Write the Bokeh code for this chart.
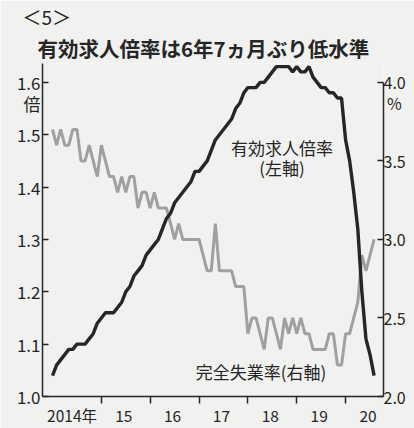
from bokeh.plotting import figure
from bokeh.models import Range1d, LinearAxis, FixedTicker, Label, ColumnDataSource, Title
from bokeh.embed import file_html
from bokeh.resources import INLINE

# ---- data (monthly, Jan 2014 - Aug 2020) ----
first_year = 2014
jobs_ratio = [
    1.04, 1.06, 1.07, 1.08, 1.09, 1.09, 1.10, 1.10, 1.10, 1.11, 1.12, 1.14,  # 2014
    1.15, 1.16, 1.16, 1.16, 1.17, 1.18, 1.20, 1.21, 1.23, 1.24, 1.25, 1.27,  # 2015
    1.28, 1.29, 1.30, 1.32, 1.34, 1.35, 1.37, 1.38, 1.39, 1.40, 1.41, 1.43,  # 2016
    1.43, 1.44, 1.45, 1.47, 1.49, 1.50, 1.51, 1.52, 1.53, 1.55, 1.56, 1.58,  # 2017
    1.59, 1.59, 1.59, 1.60, 1.60, 1.61, 1.62, 1.63, 1.63, 1.63, 1.63, 1.62,  # 2018
    1.63, 1.62, 1.62, 1.63, 1.61, 1.60, 1.59, 1.59, 1.58, 1.58, 1.57, 1.57,  # 2019
    1.49, 1.45, 1.39, 1.32, 1.20, 1.11, 1.08, 1.04,                          # 2020
]
unemployment = [
    3.7, 3.6, 3.7, 3.6, 3.6, 3.7, 3.7, 3.5, 3.5, 3.6, 3.5, 3.4,  # 2014
    3.6, 3.5, 3.4, 3.4, 3.3, 3.4, 3.3, 3.4, 3.4, 3.2, 3.3, 3.3,  # 2015
    3.2, 3.3, 3.2, 3.2, 3.2, 3.1, 3.0, 3.1, 3.0, 3.0, 3.0, 3.0,  # 2016
    3.0, 2.9, 2.8, 2.8, 3.1, 2.8, 2.8, 2.8, 2.8, 2.7, 2.7, 2.7,  # 2017
    2.4, 2.5, 2.5, 2.4, 2.3, 2.5, 2.5, 2.4, 2.3, 2.5, 2.4, 2.5,  # 2018
    2.4, 2.5, 2.4, 2.4, 2.3, 2.3, 2.3, 2.3, 2.4, 2.4, 2.2, 2.2,  # 2019
    2.4, 2.4, 2.5, 2.6, 2.9, 2.8, 2.9, 3.0,                      # 2020
]
left_ticks = [1.0, 1.1, 1.2, 1.3, 1.4, 1.5, 1.6]
right_ticks = [2.0, 2.5, 3.0, 3.5, 4.0]
year_bounds = [2015, 2016, 2017, 2018, 2019, 2020]
year_labels = ["2014年", "15", "16", "17", "18", "19", "20"]
left_unit, left_unit_at = "倍", 1.56
right_unit, right_unit_at = "\u00a0%", 3.87

title_text = "有効求人倍率は6年7ヵ月ぶり低水準"
number_text = "＜5＞"
jobs_name = "有効求人倍率"
jobs_axis = "(左軸)"
unemp_name = "完全失業率(右軸)"

x = [first_year + i / 12 for i in range(len(jobs_ratio))]

FONT = "Noto Sans CJK JP"
BG = "#f1f1ef"
INK = "#262626"
GREY = "#a0a0a0"

p = figure(width=414, height=428, output_backend="svg", toolbar_location=None,
           x_range=Range1d(2013.795, 2020.776), y_range=Range1d(1.0, 1.636),
           min_border=0, min_border_left=42, min_border_right=31, min_border_top=60,
           min_border_bottom=29, background_fill_color=BG, border_fill_color=BG,
           outline_line_color=None, title_location=None)
p.grid.visible = False
p.extra_y_ranges = {"pct": Range1d(2.0, 2.0 + 0.636 * (2.0 / 0.6))}

src = ColumnDataSource(dict(x=x, jobs=jobs_ratio, unemp=unemployment))
p.line("x", "unemp", source=src, y_range_name="pct", line_color=GREY, line_width=3.0)
p.line("x", "jobs", source=src, line_color=INK, line_width=3.4)

# bottom axis: labels at year centres, boundary ticks as minor ticks
centers = [2014.40] + [y + 5.5 / 12 for y in year_bounds]
xa = p.xaxis[0]
xa.ticker = FixedTicker(ticks=centers, minor_ticks=year_bounds)
xa.major_label_overrides = {c: t for c, t in zip(centers, year_labels)}
xa.major_tick_in = 0
xa.major_tick_out = 0
xa.minor_tick_in = 0
xa.minor_tick_out = 7
xa.minor_tick_line_color = INK
xa.minor_tick_line_width = 1.5
xa.axis_line_color = INK
xa.axis_line_width = 1.5
xa.major_label_standoff = 0
xa.major_label_text_font = FONT
xa.major_label_text_font_size = "15.5px"
xa.major_label_text_color = INK

ya = p.yaxis[0]
ya.ticker = FixedTicker(ticks=left_ticks + [left_unit_at], minor_ticks=left_ticks)
ov = {t: f"{t:.1f}" for t in left_ticks}
ov[left_unit_at] = left_unit
ya.major_label_overrides = ov
ya.major_tick_in = 0
ya.major_tick_out = 0
ya.minor_tick_in = 6
ya.minor_tick_out = 0
ya.minor_tick_line_color = INK
ya.minor_tick_line_width = 1.5
ya.axis_line_color = INK
ya.axis_line_width = 1.5
ya.major_label_standoff = 2
ya.major_label_text_font = FONT
ya.major_label_text_font_size = "17px"
ya.major_label_text_color = INK

ra = LinearAxis(y_range_name="pct",
                ticker=FixedTicker(ticks=right_ticks + [right_unit_at], minor_ticks=right_ticks),
                bounds=(2.0, 4.0))
ov = {t: f"{t:.1f}" for t in right_ticks}
ov[right_unit_at] = right_unit
ra.major_label_overrides = ov
ra.major_tick_in = 0
ra.major_tick_out = 0
ra.minor_tick_in = 6
ra.minor_tick_out = 0
ra.minor_tick_line_color = INK
ra.minor_tick_line_width = 1.5
ra.axis_line_color = INK
ra.axis_line_width = 1.5
ra.major_label_standoff = 0
ra.major_label_text_font = FONT
ra.major_label_text_font_size = "16px"
ra.major_label_text_color = INK
p.add_layout(ra, "right")

t_main = Title(text=title_text, align="left", offset=-5, standoff=2,
               text_font=FONT, text_font_size="20.5px", text_font_style="bold",
               text_color=INK)
t_num = Title(text=number_text, align="left", offset=-20, standoff=0,
              text_font=FONT, text_font_size="19px", text_font_style="normal",
              text_color=INK)
p.add_layout(t_main, "above")
p.add_layout(t_num, "above")

def lab(txt, x, y, size):
    p.add_layout(Label(x=x, y=y, text=txt, text_font=FONT, text_font_size=size,
                       text_color=INK, text_align="center", text_baseline="middle"))

lab(jobs_name, 2018.70, 1.476, "17px")
lab(jobs_axis, 2018.70, 1.437, "17px")
lab(unemp_name, 2018.27, 1.047, "17px")

open("out.html", "w").write(file_html(p, INLINE))
